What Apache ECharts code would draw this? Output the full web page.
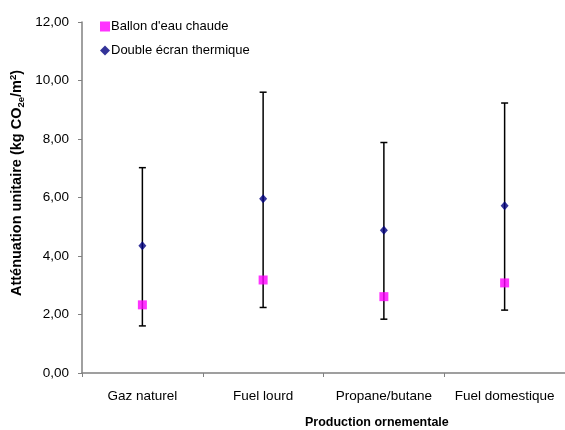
<!DOCTYPE html>
<html><head><meta charset="utf-8">
<script src="https://cdn.jsdelivr.net/npm/echarts@6/dist/echarts.min.js"></script>
<style>html,body{margin:0;padding:0;background:#fff}#c{width:565px;height:430px}</style>
</head><body><div id="c"></div>
<script>
var categories = ['Gaz naturel', 'Fuel lourd', 'Propane/butane', 'Fuel domestique'];
var ballonValues = [2.33, 3.18, 2.61, 3.08];
var doubleEcranValues = [4.35, 5.96, 4.88, 5.72];
var errLow = [1.61, 2.24, 1.84, 2.15];
var errHigh = [7.02, 9.60, 7.88, 9.23];
var seriesNames = ["Ballon d'eau chaude", 'Double écran thermique'];

var FONT = '"Liberation Sans", Arial, sans-serif';
var chart = echarts.init(document.getElementById('c'), null, {renderer: 'canvas'});
var errData = categories.map(function (c, i) { return [i, errLow[i], errHigh[i]]; });

chart.setOption({
  animation: false,
  backgroundColor: '#fff',
  textStyle: {fontFamily: FONT},
  grid: {left: 82, top: 22, width: 485, bottom: 57},
  legend: {
    orient: 'vertical', left: 95, top: 15, itemGap: 11, itemWidth: 10, itemHeight: 10,
    textStyle: {fontFamily: FONT, fontSize: 13, color: '#000', padding: [0, 0, 0, -4]},
    data: [
      {name: seriesNames[0], icon: 'rect'},
      {name: seriesNames[1], icon: 'diamond'}
    ]
  },
  xAxis: {
    type: 'category', data: categories, boundaryGap: true,
    axisLine: {lineStyle: {color: '#808080', width: 1.5}},
    axisTick: {show: true, interval: 0, length: 4, lineStyle: {color: '#808080'}},
    axisLabel: {color: '#000', fontSize: 13.5, fontFamily: FONT, margin: 16, interval: 0}
  },
  yAxis: {
    type: 'value', min: 0, max: 12, interval: 2,
    axisLine: {show: true, lineStyle: {color: '#808080', width: 1.5}},
    axisTick: {show: true, length: 4, lineStyle: {color: '#808080'}},
    splitLine: {show: false},
    axisLabel: {color: '#000', fontSize: 13.5, fontFamily: FONT, margin: 13,
      formatter: function (v) { return v.toFixed(2).replace('.', ','); }}
  },
  graphic: [{
    type: 'text', left: 305, top: 416,
    style: {text: 'Production ornementale', font: 'bold 12.5px ' + FONT, fill: '#000'}
  }, {
    type: 'text', x: 17, y: 183, rotation: Math.PI / 2,
    style: {
      text: '{a|Atténuation unitaire (kg CO}{sub|2e}{a|/m}{sup|2}{a|)}',
      align: 'center', verticalAlign: 'middle',
      rich: {
        a: {fontFamily: FONT, fontSize: 14.5, fontWeight: 'bold', fill: '#000', lineHeight: 18, verticalAlign: 'middle'},
        sub: {fontFamily: FONT, fontSize: 9.5, fontWeight: 'bold', fill: '#000', lineHeight: 18, verticalAlign: 'bottom', padding: [7, 0, 0, 0]},
        sup: {fontFamily: FONT, fontSize: 9.5, fontWeight: 'bold', fill: '#000', lineHeight: 18, verticalAlign: 'top', padding: [0, 0, 7, 0]}
      }
    }
  }],
  series: [
    {
      type: 'custom', name: 'err', silent: true, z: 1,
      data: errData,
      renderItem: function (params, api) {
        var x = api.value(0);
        var lo = api.coord([x, api.value(1)]);
        var hi = api.coord([x, api.value(2)]);
        var hw = 3.5;
        var st = {stroke: '#000', lineWidth: 1.5};
        return {type: 'group', children: [
          {type: 'line', shape: {x1: lo[0], y1: lo[1], x2: hi[0], y2: hi[1]}, style: st},
          {type: 'line', shape: {x1: lo[0] - hw, y1: lo[1], x2: lo[0] + hw, y2: lo[1]}, style: st},
          {type: 'line', shape: {x1: hi[0] - hw, y1: hi[1], x2: hi[0] + hw, y2: hi[1]}, style: st}
        ]};
      }
    },
    {
      type: 'scatter', name: seriesNames[0], data: ballonValues, z: 3,
      symbol: 'rect', symbolSize: 9, itemStyle: {color: '#FF00FF'}
    },
    {
      type: 'scatter', name: seriesNames[1], data: doubleEcranValues, z: 3,
      symbol: 'diamond', symbolSize: [8, 9], itemStyle: {color: '#000080'}
    }
  ]
});
</script></body></html>
